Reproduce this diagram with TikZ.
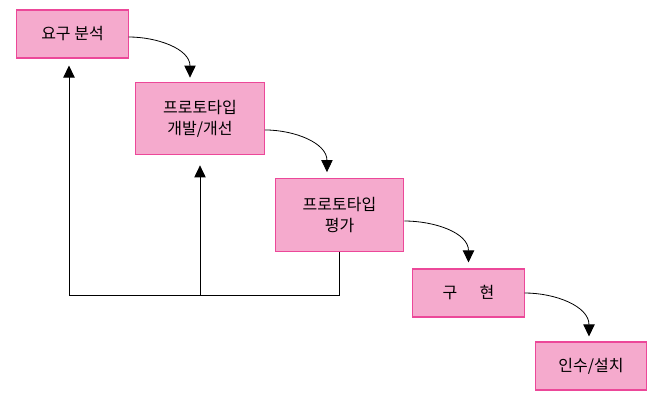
\documentclass[tikz,border=0pt]{standalone}
\usepackage{fontspec}
\setmainfont{Noto Sans CJK KR}
\usetikzlibrary{arrows.meta}
\definecolor{boxfill}{RGB}{245,170,205}
\definecolor{boxline}{RGB}{236,72,153}
\begin{document}
\begin{tikzpicture}[x=0.75pt,y=-0.75pt,>={Triangle[length=9pt,width=8.5pt]},
  stage/.style={draw=boxline,fill=boxfill,line width=0.8pt,inner sep=0pt,
    align=center,font=\fontsize{12}{16}\selectfont},
  small/.style={minimum width=83.5pt,minimum height=36pt},
  large/.style={minimum width=96.5pt,minimum height=54.5pt},
  flow/.style={->,line width=0.6pt}]
\useasboundingbox (0,0) rectangle (661,403);
\node[stage,small] (req) at (72.5,34) {요구 분석};
\node[stage,large] (dev) at (200,118.5) {프로토타입\\개발/개선};
\node[stage,large] (eval) at (339.5,215) {프로토타입\\평가};
\node[stage,small] (impl) at (468.5,293) {구\hspace{1.4em}현};
\node[stage,small] (inst) at (591,366) {인수/설치};
\draw[flow] ([yshift=-2.25pt]req.east) to[out=0,in=90] ([xshift=-7.5pt,yshift=3pt]dev.north);
\draw[flow] ([yshift=-8.6pt]dev.east) to[out=0,in=90] ([xshift=-9.4pt,yshift=4.5pt]eval.north);
\draw[flow] ([yshift=-4.5pt]eval.east) to[out=0,in=90] ([yshift=4.5pt]impl.north);
\draw[flow] (impl.east) to[out=0,in=90] ([xshift=-1.5pt,yshift=3.75pt]inst.north);
\coordinate (corner) at (69,295);
\draw[line width=0.6pt] (eval.south) |- (corner);
\draw[flow,shorten >=5.25pt] (corner) -- (corner |- req.south);
\draw[flow,shorten >=7.5pt] (dev.south |- corner) -- (dev.south);
\end{tikzpicture}
\end{document}
